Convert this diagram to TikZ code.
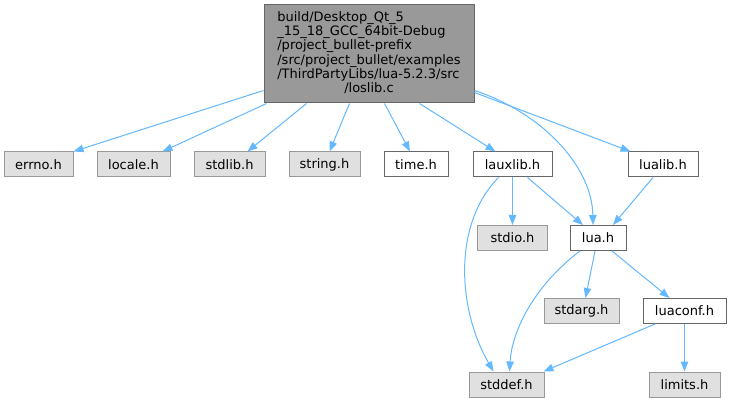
\documentclass[tikz,border=0pt]{standalone}
\usepackage{fontspec}
\setmainfont{DejaVu Sans}
\usetikzlibrary{arrows.meta}
\definecolor{edgec}{HTML}{63B8FF}
\definecolor{grayfill}{HTML}{E0E0E0}
\definecolor{grayline}{HTML}{999999}
\definecolor{darkline}{HTML}{666666}
\definecolor{mainfill}{HTML}{999999}
\begin{document}
\begin{tikzpicture}[x=1pt,y=-1pt,
  every node/.style={font=\fontsize{13}{14.3}\selectfont, inner sep=0pt, minimum height=25pt, line width=1pt},
  sysbox/.style={draw=grayline, fill=grayfill},
  filebox/.style={draw=darkline, fill=white},
  mainbox/.style={draw=darkline, fill=mainfill},
  edge/.style={draw=edgec, line width=1pt, -{Triangle[length=10pt,width=7.5pt]}}]
\useasboundingbox (0,0) rectangle (731,403);
\node[mainbox, minimum width=210pt, minimum height=98pt] (main) at (369,54)
 {\begin{tabular}{@{}l@{}}build/Desktop\_Qt\_5\\\_15\_18\_GCC\_64bit-Debug\\/project\_bullet-prefix\\/src/project\_bullet/examples\\/ThirdPartyLibs/lua-5.2.3/src\\\multicolumn{1}{@{}c@{}}{/loslib.c}\end{tabular}};
\node[sysbox, minimum width=69pt] (errno) at (38.5,164.5) {errno.h};
\node[sysbox, minimum width=73pt] (locale) at (133.5,164.5) {locale.h};
\node[sysbox, minimum width=71pt] (stdlib) at (229.5,164.5) {stdlib.h};
\node[sysbox, minimum width=71pt] (string) at (324.5,164.5) {string.h};
\node[filebox, minimum width=64pt] (time) at (416,164.5) {time.h};
\node[filebox, minimum width=79pt] (lauxlib) at (512.5,164.5) {lauxlib.h};
\node[filebox, minimum width=70pt] (lualib) at (663,164.5) {lualib.h};
\node[sysbox, minimum width=70pt] (stdio) at (512.5,238) {stdio.h};
\node[filebox, minimum width=56pt] (lua) at (598,238) {lua.h};
\node[sysbox, minimum width=75pt] (stdarg) at (581.5,311) {stdarg.h};
\node[filebox, minimum width=83pt] (luaconf) at (684.5,311) {luaconf.h};
\node[sysbox, minimum width=75pt] (stddef) at (506.5,384.5) {stddef.h};
\node[sysbox, minimum width=71pt] (limits) at (684.5,384.5) {limits.h};

\path[edge] ([yshift=13pt]main.south west) -- (errno.north east);
\path[edge] ([xshift=3pt]main.south west) -- ([xshift=-8pt]locale.north east);
\path[edge] ([xshift=43pt]main.south west) -- ([xshift=18pt]stdlib.north);
\path[edge] ([xshift=86pt]main.south west) -- ([xshift=5pt]string.north);
\path[edge] ([xshift=121pt]main.south west) -- ([xshift=-6pt]time.north);
\path[edge] ([xshift=156pt]main.south west) -- ([xshift=-17pt]lauxlib.north);
\path[edge] ([yshift=13pt]main.south east) .. controls (540,112) and (592,165) .. ([xshift=-5pt]lua.north);
\path[edge] ([yshift=11pt]main.south east) -- ([xshift=3pt]lualib.north west);
\path[edge] (lauxlib.south) -- (stdio.north);
\path[edge] ([xshift=15pt]lauxlib.south) -- ([xshift=-15pt]lua.north);
\path[edge] ([xshift=-14pt]lauxlib.south) .. controls (452,225) and (458,310) .. ([xshift=-13pt]stddef.north);
\path[edge] ([xshift=-10pt]lualib.south) -- ([xshift=15pt]lua.north);
\path[edge] ([xshift=-18pt]lua.south) .. controls (535,285) and (512,330) .. ([xshift=3pt]stddef.north);
\path[edge] ([xshift=-3pt]lua.south) -- ([xshift=4pt]stdarg.north);
\path[edge] ([xshift=14pt]lua.south) -- ([xshift=-15pt]luaconf.north);
\path[edge] ([xshift=-29.5pt]luaconf.south) -- ([xshift=-1pt]stddef.north east);
\path[edge] (luaconf.south) -- (limits.north);
\end{tikzpicture}
\end{document}
